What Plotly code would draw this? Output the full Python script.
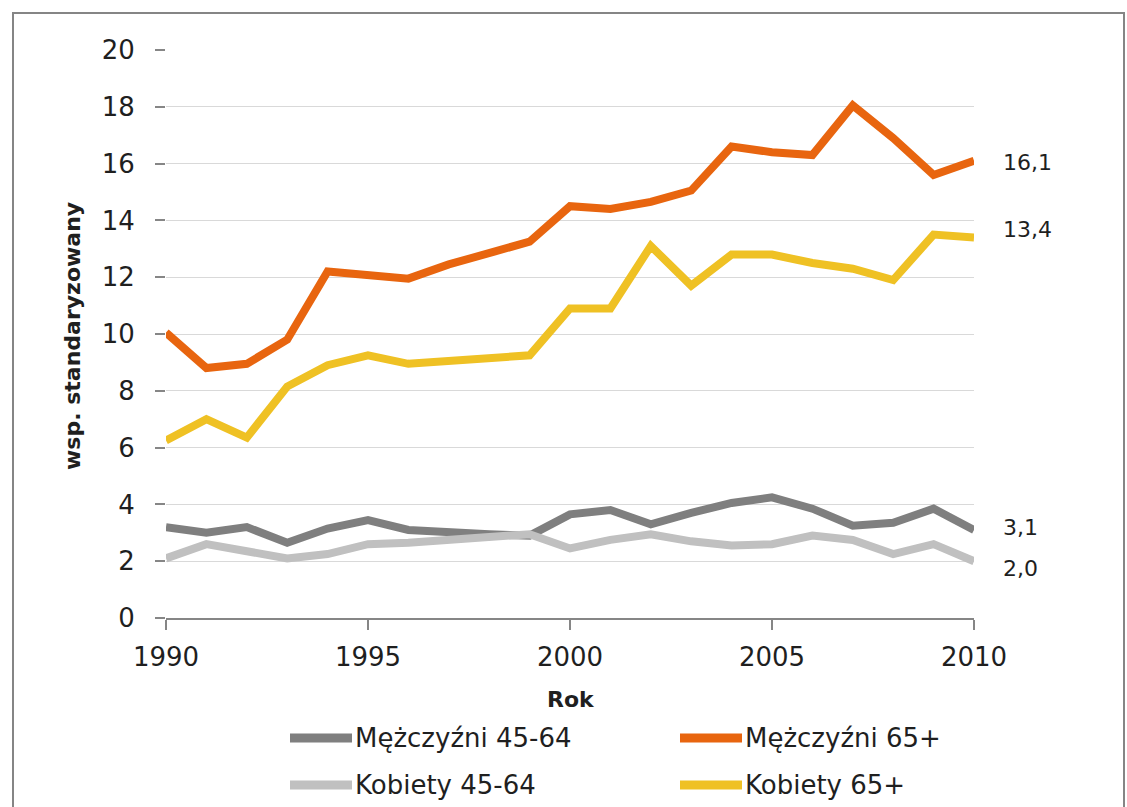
import plotly.graph_objects as go

# --- data -------------------------------------------------------------
years = list(range(1990, 2011))

men_45_64 = [3.2, 3.0, 3.2, 2.65, 3.15, 3.45, 3.1, 3.0, 2.95, 2.9, 3.65,
             3.8, 3.3, 3.7, 4.05, 4.25, 3.85, 3.25, 3.35, 3.85, 3.1]
men_65 = [10.05, 8.8, 8.95, 9.8, 12.2, 12.05, 11.95, 12.45, 12.85, 13.25, 14.5,
          14.4, 14.65, 15.05, 16.6, 16.4, 16.3, 18.05, 16.9, 15.6, 16.1]
women_45_64 = [2.1, 2.6, 2.35, 2.1, 2.25, 2.6, 2.65, 2.75, 2.8, 2.95, 2.45,
               2.75, 2.95, 2.7, 2.55, 2.6, 2.9, 2.75, 2.25, 2.6, 2.0]
women_65 = [6.25, 7.0, 6.35, 8.15, 8.9, 9.25, 8.95, 9.05, 9.15, 9.25, 10.9,
            10.9, 13.1, 11.7, 12.8, 12.8, 12.5, 12.3, 11.9, 13.5, 13.4]

series_names = ["Mężczyźni 45-64", "Mężczyźni 65+", "Kobiety 45-64", "Kobiety 65+"]
series_values = [men_45_64, men_65, women_45_64, women_65]
series_colors = ["#7f7f7f", "#e8650f", "#c0c0c0", "#efc124"]

y_ticks = list(range(0, 21, 2))
x_ticks = [1990, 1995, 2000, 2005, 2010]

# --- geometry ---------------------------------------------------------
W, H = 1127, 807
ML, MR, MT, MB = 166, 153, 50, 189
PW, PH = W - ML - MR, H - MT - MB

def px_x(x):
    return (x - ML) / PW

def px_y(y):
    return (H - MB - y) / PH

FONT = "DejaVu Sans"
TXT = "#1f1f1f"

fig = go.Figure()
# drawn in series order so later series sit on top
for name, vals, col in zip(series_names, series_values, series_colors):
    fig.add_trace(go.Scatter(
        x=years, y=vals, mode="lines", name=name,
        line=dict(color=col, width=8),
        showlegend=False, hoverinfo="x+y+name",
    ))

# end-of-line value labels
end_shift = [2, -2, -7, 8]
annotations = []
for vals, dy in zip(series_values, end_shift):
    v = vals[-1]
    annotations.append(dict(
        x=years[-1], y=v, xref="x", yref="y", xanchor="left", yanchor="middle",
        xshift=27, yshift=dy,
        text=f"{v:.1f}".replace(".", ","), showarrow=False,
        font=dict(family=FONT, size=22, color=TXT),
    ))

# axis titles
annotations.append(dict(
    x=px_x(72), y=px_y(336), xref="paper", yref="paper",
    xanchor="center", yanchor="middle", textangle=-90,
    text="<b>wsp. standaryzowany</b>", showarrow=False,
    font=dict(family=FONT, size=22, color=TXT),
))
annotations.append(dict(
    x=px_x(571), y=px_y(699), xref="paper", yref="paper",
    xanchor="center", yanchor="middle",
    text="<b>Rok</b>", showarrow=False,
    font=dict(family=FONT, size=22, color=TXT),
))

# two-column legend: line sample + label
shapes = []
legend_slots = [(290, 738), (680, 738), (290, 785), (680, 785)]
for (lx, ly), name, col in zip(legend_slots, series_names, series_colors):
    shapes.append(dict(
        type="line", xref="paper", yref="paper",
        x0=px_x(lx), x1=px_x(lx + 62), y0=px_y(ly), y1=px_y(ly),
        line=dict(color=col, width=9),
    ))
    annotations.append(dict(
        x=px_x(lx + 63), y=px_y(ly), xref="paper", yref="paper",
        xanchor="left", yanchor="middle", text=name, showarrow=False,
        font=dict(family=FONT, size=26, color=TXT),
    ))

# outer frame
shapes.append(dict(
    type="rect", xref="paper", yref="paper",
    x0=px_x(13), x1=px_x(1124), y0=px_y(830), y1=px_y(13),
    line=dict(color="#858585", width=2), fillcolor="rgba(0,0,0,0)", layer="below",
))

fig.update_layout(
    width=W, height=H,
    margin=dict(l=ML, r=MR, t=MT, b=MB),
    paper_bgcolor="white", plot_bgcolor="white",
    showlegend=False,
    annotations=annotations, shapes=shapes,
    xaxis=dict(
        range=[1990, 2010], tickvals=x_ticks, ticktext=[str(t) for t in x_ticks],
        showgrid=False, zeroline=False,
        showline=True, linecolor="#868686", linewidth=1.5,
        ticks="outside", ticklen=10, tickcolor="#868686", tickwidth=1.5,
        tickfont=dict(family=FONT, size=26, color=TXT),
        ticklabelstandoff=5,
    ),
    yaxis=dict(
        range=[0, 20], tickvals=y_ticks,
        showgrid=True, gridcolor="#d9d9d9", gridwidth=1,
        zeroline=False, showline=False,
        ticks="outside", ticklen=10, tickcolor="#868686", tickwidth=1.5,
        tickfont=dict(family=FONT, size=26, color=TXT),
        ticklabelstandoff=15,
    ),
)

fig.write_html("out.html")
